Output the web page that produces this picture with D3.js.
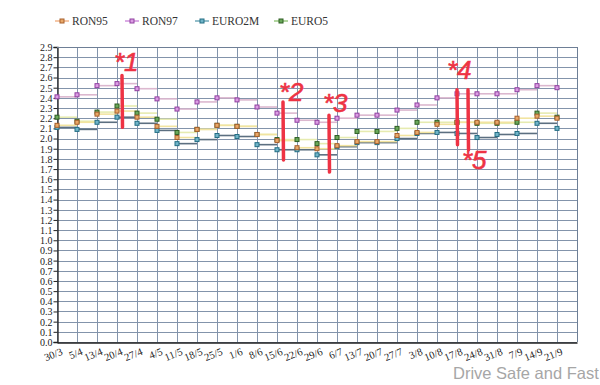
<!DOCTYPE html>
<html>
<head>
<meta charset="utf-8">
<script src="https://cdn.jsdelivr.net/npm/d3@7/dist/d3.min.js"></script>
<style>
  html, body { margin: 0; padding: 0; background: #fff; }
  svg { display: block; }
</style>
</head>
<body>
<svg id="chart" width="600" height="385"></svg>
<script>
// ---- data ----
const categories = ["30/3","5/4","13/4","20/4","27/4","4/5","11/5","18/5","25/5","1/6","8/6","15/6","22/6","29/6","6/7","13/7","20/7","27/7","3/8","10/8","17/8","24/8","31/8","7/9","14/9","21/9"];
const ron95  = [2.13,2.16,2.24,2.27,2.21,2.12,2.01,2.09,2.13,2.12,2.04,1.98,1.91,1.90,1.93,1.97,1.97,2.03,2.06,2.14,2.16,2.16,2.16,2.20,2.22,2.20];
const ron97  = [2.41,2.43,2.52,2.54,2.49,2.39,2.29,2.36,2.40,2.38,2.31,2.25,2.18,2.16,2.20,2.23,2.23,2.28,2.33,2.40,2.44,2.44,2.44,2.48,2.52,2.50];
const euro2m = [2.11,2.09,2.16,2.21,2.15,2.08,1.95,1.99,2.03,2.02,1.94,1.89,1.89,1.84,1.92,1.96,1.96,2.00,2.05,2.06,2.05,2.01,2.04,2.05,2.15,2.10];
const euro5  = [2.21,2.17,2.26,2.32,2.25,2.19,2.06,2.09,2.13,2.12,2.04,1.99,1.99,1.95,2.01,2.07,2.07,2.10,2.16,2.16,2.16,2.15,2.15,2.16,2.25,2.21];
const yTicks = d3.range(0, 30).map(d => d / 10);
const seriesNames = ["RON95","RON97","EURO2M","EURO5"];
const annotations = [
  {label: "*1", cat: 3.25, top: 2.62, bottom: 2.11},
  {label: "*2", cat: 11.3, top: 2.36, bottom: 1.79},
  {label: "*3", cat: 13.6, top: 2.23, bottom: 1.67},
  {label: "*4", cat: 20.0, top: 2.48, bottom: 1.94},
  {label: "*5", cat: 20.55, top: 2.48, bottom: 1.89}
];

// ---- layout ----
const svg = d3.select("#chart");
const L = 57, R = 577, T = 47, B = 342;
const x = d3.scaleLinear().domain([0, categories.length]).range([L, R]);
const y = d3.scaleLinear().domain([0, 2.9]).range([B, T]);
const serif = "'Liberation Serif', 'DejaVu Serif', serif";

const styles = {
  RON95:  {data: ron95,  line: "#f2e4a0", legLine: "#f2b58a", fill: "#e8a868", stroke: "#a8602c"},
  RON97:  {data: ron97,  line: "#dcb8cf", legLine: "#cf8fdc", fill: "#dc9ce4", stroke: "#9040a0"},
  EURO2M: {data: euro2m, line: "#5c6f80", legLine: "#6fa8b8", fill: "#70b4c8", stroke: "#236e84"},
  EURO5:  {data: euro5,  line: "#e6ebb0", legLine: "#98c880", fill: "#6aa85a", stroke: "#2e5e22"}
};

// grid
const grid = svg.append("g");
grid.selectAll("line.h").data(yTicks).enter().append("line")
  .attr("x1", L).attr("x2", R)
  .attr("y1", d => Math.round(y(d)) + 0.5).attr("y2", d => Math.round(y(d)) + 0.5)
  .attr("stroke", "#8394ab").attr("stroke-width", 1);
grid.selectAll("line.v").data(d3.range(0, categories.length + 1)).enter().append("line")
  .attr("x1", d => Math.round(x(d)) + 0.5).attr("x2", d => Math.round(x(d)) + 0.5)
  .attr("y1", T).attr("y2", B)
  .attr("stroke", "#8394ab").attr("stroke-width", 1);

// y axis
const yAxis = d3.axisLeft(y).tickValues(yTicks).tickSize(4).tickFormat(d3.format(".1f"));
const gy = svg.append("g").attr("transform", `translate(${L + 0.5},0)`).call(yAxis);
gy.attr("font-family", serif).attr("font-size", 10);
gy.select(".domain").attr("stroke", "#222").attr("stroke-width", 1.3);
gy.selectAll(".tick line").attr("stroke", "#222");
gy.selectAll(".tick text").attr("fill", "#222").attr("x", -5).attr("dy", "0.34em");

// x axis
const xAxis = d3.axisBottom(x).tickValues(d3.range(0, categories.length))
  .tickSize(0).tickFormat(i => categories[i]);
const gx = svg.append("g").attr("transform", `translate(0,${B + 0.5})`).call(xAxis);
gx.attr("font-family", serif).attr("font-size", 10.5);
gx.select(".domain").attr("stroke", "#222").attr("stroke-width", 1.5);
gx.selectAll(".tick text")
  .attr("fill", "#222")
  .attr("text-anchor", "end")
  .attr("transform", "translate(3,5) rotate(-22)")
  .attr("dy", "0.7em").attr("y", 0);

// border top/right
svg.append("line").attr("x1", L).attr("x2", R + 0.5).attr("y1", T + 0.5).attr("y2", T + 0.5).attr("stroke", "#6e7f96");
svg.append("line").attr("x1", R + 0.5).attr("x2", R + 0.5).attr("y1", T).attr("y2", B).attr("stroke", "#6e7f96");

// series: RON95 drawn on top
const drawOrder = ["EURO5","EURO2M","RON97","RON95"];
drawOrder.forEach(name => {
  const s = styles[name];
  const segs = s.data.slice(0, -1).map((v, i) => ({i, v}));
  svg.append("g").selectAll("line").data(segs).enter().append("line")
    .attr("x1", d => x(d.i)).attr("x2", d => x(d.i + 1))
    .attr("y1", d => y(d.v)).attr("y2", d => y(d.v))
    .attr("stroke", s.line).attr("stroke-width", 1.6);
});
drawOrder.forEach(name => {
  const s = styles[name];
  svg.append("g").selectAll("rect").data(s.data).enter().append("rect")
    .attr("x", (d, i) => x(i) - 2).attr("y", d => y(d) - 2)
    .attr("width", 4).attr("height", 4)
    .attr("fill", s.fill).attr("stroke", s.stroke).attr("stroke-width", 1);
});

// legend
const legX = [62, 132, 202, 281];
const legY = 21;
seriesNames.forEach((name, k) => {
  const s = styles[name];
  const g = svg.append("g").attr("transform", `translate(${legX[k]},${legY})`);
  g.append("line").attr("x1", -7).attr("x2", 7).attr("y1", 0).attr("y2", 0)
    .attr("stroke", s.legLine).attr("stroke-width", 1.5);
  g.append("rect").attr("x", -2).attr("y", -2).attr("width", 4).attr("height", 4)
    .attr("fill", s.fill).attr("stroke", s.stroke);
  g.append("text").attr("x", 10).attr("y", 4)
    .attr("font-family", serif)
    .attr("font-size", 11.5).attr("fill", "#333").text(name);
});

// red hand annotations
const red = "#ee3344";
annotations.forEach(a => {
  const ax = x(a.cat);
  svg.append("line").attr("x1", ax).attr("x2", ax + 0.5)
    .attr("y1", y(a.top)).attr("y2", y(a.bottom))
    .attr("stroke", red).attr("stroke-width", 3.5).attr("stroke-linecap", "round");
});
const labelPos = [
  {dx: -8, dy: 2.66},
  {dx: -4, dy: 2.37},
  {dx: -6, dy: 2.26},
  {dx: -10, dy: 2.59},
  {dx: -6, dy: 1.70}
];
annotations.forEach((a, k) => {
  svg.append("text").attr("x", x(a.cat) + labelPos[k].dx).attr("y", y(labelPos[k].dy))
    .attr("font-family", "'Liberation Sans', Arial, sans-serif")
    .attr("font-size", 26).attr("font-style", "italic")
    .attr("fill", red).attr("stroke", red).attr("stroke-width", 0.6).text(a.label);
});

// watermark
svg.append("text").attr("x", 453).attr("y", 379)
  .attr("font-family", "'Liberation Sans', Arial, sans-serif")
  .attr("font-size", 16.5).attr("fill", "#a6a6a6").text("Drive Safe and Fast");
</script>
</body>
</html>
